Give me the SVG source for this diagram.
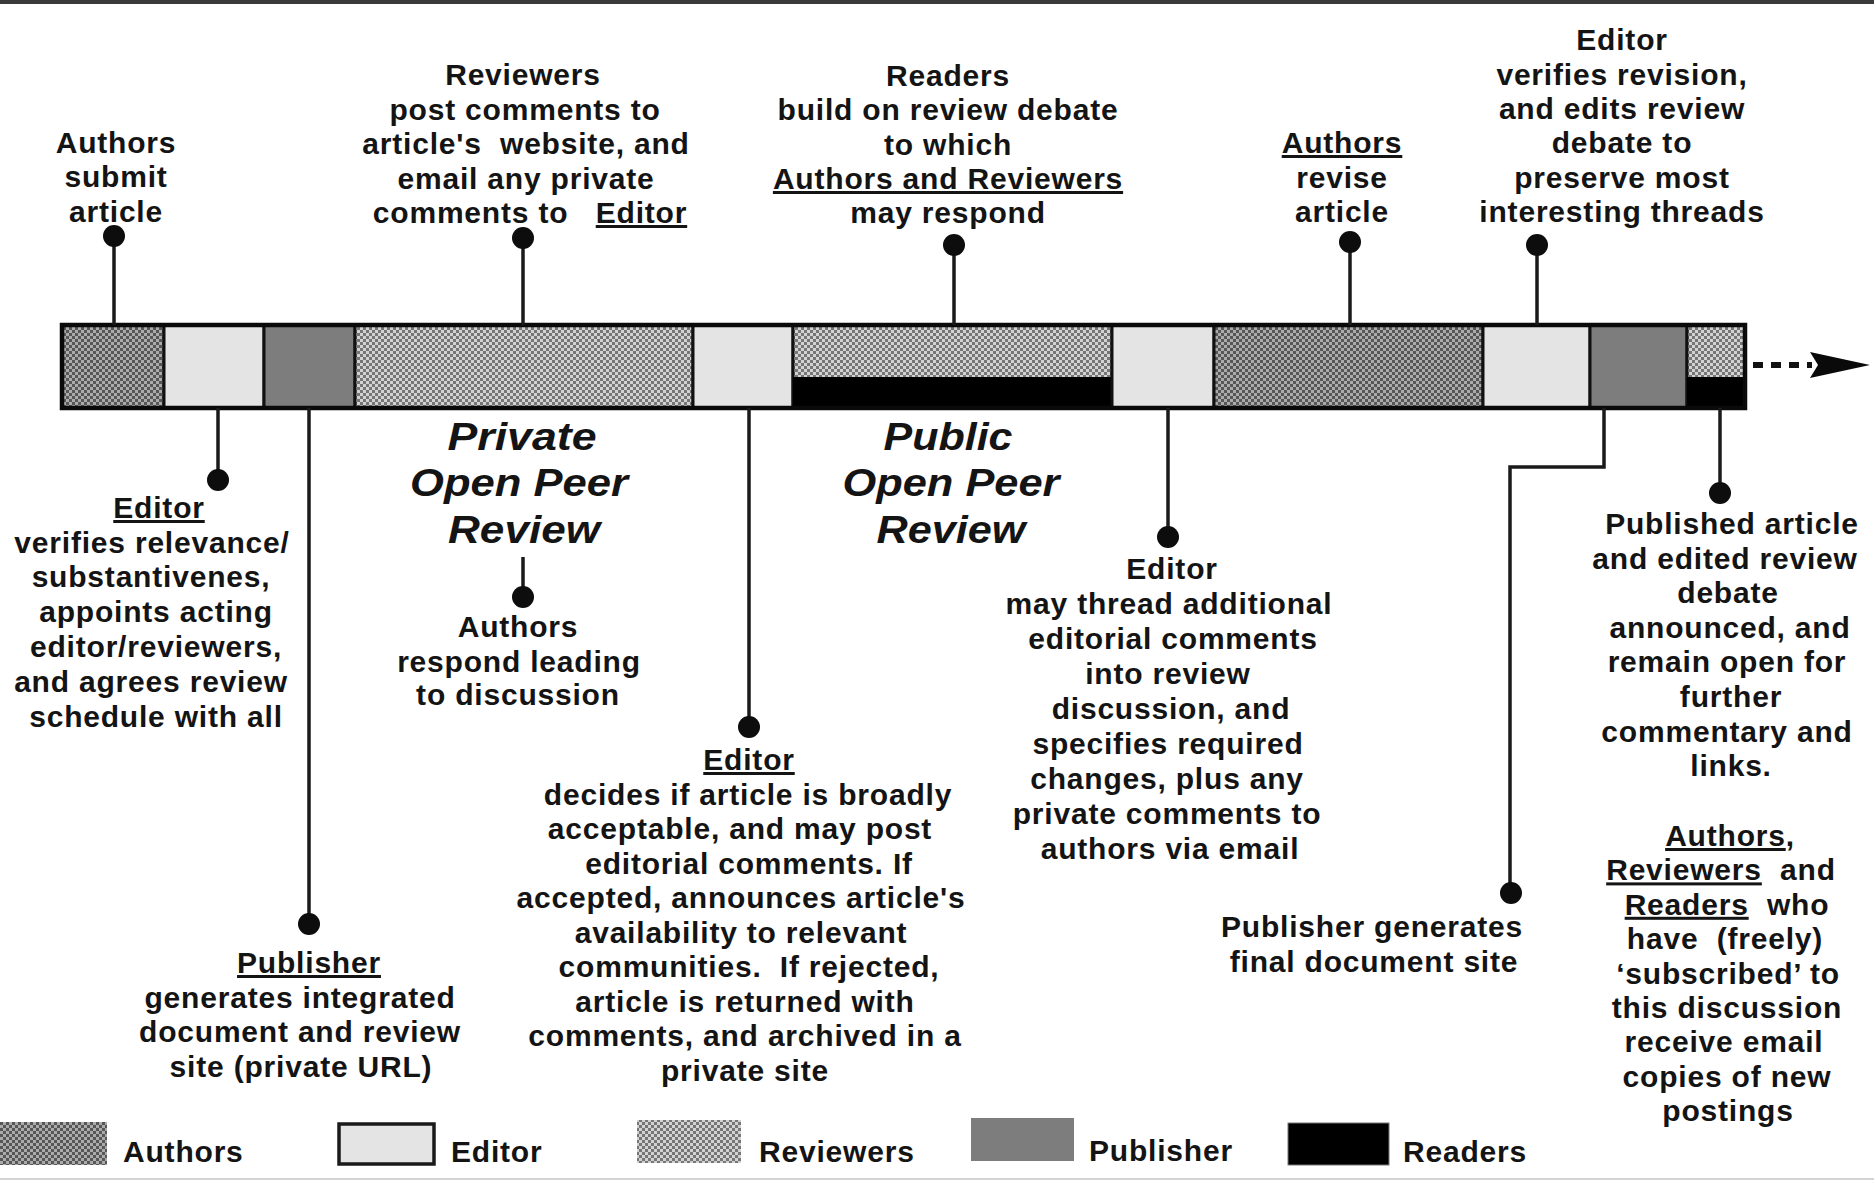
<svg xmlns="http://www.w3.org/2000/svg" width="1874" height="1181" viewBox="0 0 1874 1181">
<defs>
<style>
.t{font-family:"Liberation Sans",Arial,Helvetica,sans-serif;font-weight:bold;font-size:30px;letter-spacing:0.8px;fill:#141414;text-anchor:middle}
.lg{text-anchor:start}
.h{font-style:italic;font-size:38px;letter-spacing:0}
.u{text-decoration:underline}
.stem{stroke:#1a1a1a;stroke-width:3.5;fill:none}
.dot{fill:#0d0d0d}
.seg{stroke:#111;stroke-width:3}
</style>
<pattern id="pAuth" width="6" height="6" patternUnits="userSpaceOnUse">
<rect width="6" height="6" fill="#ababab"/>
<rect width="3" height="3" fill="#575757"/>
<rect x="3" y="3" width="3" height="3" fill="#575757"/>
</pattern>
<pattern id="pRev" width="6" height="6" patternUnits="userSpaceOnUse">
<rect width="6" height="6" fill="#d2d2d2"/>
<rect width="3" height="3" fill="#767676"/>
<rect x="3" y="3" width="3" height="3" fill="#767676"/>
</pattern>
</defs>
<rect width="1874" height="1181" fill="#ffffff"/>
<rect x="0" y="0" width="1874" height="4" fill="#3a3a3a"/>
<line x1="0" y1="1179" x2="1874" y2="1179" stroke="#d4d4d4" stroke-width="2"/>

<g id="bar">
<rect class="seg" x="62" y="325" width="102" height="83" fill="url(#pAuth)"/>
<rect class="seg" x="164" y="325" width="100" height="83" fill="#e4e4e4"/>
<rect class="seg" x="264" y="325" width="91" height="83" fill="#7d7d7d"/>
<rect class="seg" x="355" y="325" width="338" height="83" fill="url(#pRev)"/>
<rect class="seg" x="693" y="325" width="100" height="83" fill="#e4e4e4"/>
<rect class="seg" x="793" y="325" width="319" height="83" fill="url(#pRev)"/>
<rect x="793" y="377" width="319" height="31" fill="#000"/>
<rect class="seg" x="1112" y="325" width="102" height="83" fill="#e4e4e4"/>
<rect class="seg" x="1214" y="325" width="269" height="83" fill="url(#pAuth)"/>
<rect class="seg" x="1483" y="325" width="107" height="83" fill="#e4e4e4"/>
<rect class="seg" x="1590" y="325" width="97" height="83" fill="#7d7d7d"/>
<rect class="seg" x="1687" y="325" width="58" height="83" fill="url(#pRev)"/>
<rect x="1687" y="377" width="58" height="31" fill="#000"/>
<rect x="62" y="325" width="1683" height="83" fill="none" stroke="#0a0a0a" stroke-width="4.5"/>
</g>

<g id="connectors">
<line class="stem" x1="114" y1="236" x2="114" y2="325"/><circle class="dot" cx="114" cy="236" r="11"/>
<line class="stem" x1="523" y1="238" x2="523" y2="325"/><circle class="dot" cx="523" cy="238" r="11"/>
<line class="stem" x1="954" y1="245" x2="954" y2="325"/><circle class="dot" cx="954" cy="245" r="11"/>
<line class="stem" x1="1350" y1="242" x2="1350" y2="325"/><circle class="dot" cx="1350" cy="242" r="11"/>
<line class="stem" x1="1537" y1="245" x2="1537" y2="325"/><circle class="dot" cx="1537" cy="245" r="11"/>
<line class="stem" x1="218" y1="408" x2="218" y2="480"/><circle class="dot" cx="218" cy="480" r="11"/>
<line class="stem" x1="309" y1="408" x2="309" y2="924"/><circle class="dot" cx="309" cy="924" r="11"/>
<line class="stem" x1="523" y1="557" x2="523" y2="597"/><circle class="dot" cx="523" cy="597" r="11"/>
<line class="stem" x1="749" y1="408" x2="749" y2="727"/><circle class="dot" cx="749" cy="727" r="11"/>
<line class="stem" x1="1168" y1="408" x2="1168" y2="537"/><circle class="dot" cx="1168" cy="537" r="11"/>
<polyline class="stem" points="1604,408 1604,467 1510,467 1510,893"/><circle class="dot" cx="1511" cy="893" r="11"/>
<line class="stem" x1="1720" y1="408" x2="1720" y2="493"/><circle class="dot" cx="1720" cy="493" r="11"/>
<line x1="1753" y1="365" x2="1812" y2="365" stroke="#111" stroke-width="6" stroke-dasharray="10 8"/>
<polygon points="1810,352 1870,365 1810,378 1818,365" fill="#0a0a0a"/>
</g>

<g id="n-authors-submit">
<text class="t" x="116" y="153">Authors</text>
<text class="t" x="116" y="187">submit</text>
<text class="t" x="116" y="222">article</text>
</g>

<g id="n-reviewers-post">
<text class="t" x="523" y="85">Reviewers</text>
<text class="t" x="525" y="119.5">post comments to</text>
<text class="t" x="526" y="154" xml:space="preserve">article's  website, and</text>
<text class="t" x="526" y="188.5">email any private</text>
<text class="t" x="530" y="223" xml:space="preserve">comments to   <tspan class="u">Editor</tspan></text>
</g>

<g id="n-readers-build">
<text class="t" x="948" y="86">Readers</text>
<text class="t" x="948" y="120">build on review debate</text>
<text class="t" x="948" y="154.5">to which</text>
<text class="t" x="948" y="189"><tspan class="u">Authors and Reviewers</tspan></text>
<text class="t" x="948" y="223">may respond</text>
</g>

<g id="n-authors-revise">
<text class="t" x="1342" y="153"><tspan class="u">Authors</tspan></text>
<text class="t" x="1342" y="187.5">revise</text>
<text class="t" x="1342" y="222">article</text>
</g>

<g id="n-editor-verifies-revision">
<text class="t" x="1622" y="50">Editor</text>
<text class="t" x="1622" y="85">verifies revision,</text>
<text class="t" x="1622" y="119">and edits review</text>
<text class="t" x="1622" y="153">debate to</text>
<text class="t" x="1622" y="188">preserve most</text>
<text class="t" x="1622" y="222">interesting threads</text>
</g>

<g id="n-editor-relevance">
<text class="t" x="159" y="518"><tspan class="u">Editor</tspan></text>
<text class="t" x="152" y="553">verifies relevance/</text>
<text class="t" x="151" y="587">substantivenes,</text>
<text class="t" x="156" y="622">appoints acting</text>
<text class="t" x="156" y="657">editor/reviewers,</text>
<text class="t" x="151" y="692">and agrees review</text>
<text class="t" x="156" y="727">schedule with all</text>
</g>

<g id="n-publisher-integrated">
<text class="t" x="309" y="973"><tspan class="u">Publisher</tspan></text>
<text class="t" x="300" y="1007.5">generates integrated</text>
<text class="t" x="300" y="1042">document and review</text>
<text class="t" x="301" y="1076.5">site (private URL)</text>
</g>

<g id="n-private-review">
<text class="t h" x="522" y="450" textLength="149" lengthAdjust="spacingAndGlyphs">Private</text>
<text class="t h" x="519" y="496" textLength="218" lengthAdjust="spacingAndGlyphs">Open Peer</text>
<text class="t h" x="524" y="543" textLength="152" lengthAdjust="spacingAndGlyphs">Review</text>
</g>

<g id="n-authors-respond">
<text class="t" x="518" y="637">Authors</text>
<text class="t" x="519" y="671.5">respond leading</text>
<text class="t" x="518" y="705">to discussion</text>
</g>

<g id="n-editor-decides">
<text class="t" x="749" y="770"><tspan class="u">Editor</tspan></text>
<text class="t" x="748" y="805">decides if article is broadly</text>
<text class="t" x="740" y="839">acceptable, and may post</text>
<text class="t" x="749" y="874">editorial comments. If</text>
<text class="t" x="741" y="908">accepted, announces article's</text>
<text class="t" x="741" y="943">availability to relevant</text>
<text class="t" x="749" y="977" xml:space="preserve">communities.  If rejected,</text>
<text class="t" x="745" y="1012">article is returned with</text>
<text class="t" x="745" y="1046">comments, and archived in a</text>
<text class="t" x="745" y="1081">private site</text>
</g>

<g id="n-public-review">
<text class="t h" x="948" y="450" textLength="129" lengthAdjust="spacingAndGlyphs">Public</text>
<text class="t h" x="951" y="496" textLength="217" lengthAdjust="spacingAndGlyphs">Open Peer</text>
<text class="t h" x="951" y="543" textLength="149" lengthAdjust="spacingAndGlyphs">Review</text>
</g>

<g id="n-editor-thread">
<text class="t" x="1172" y="579">Editor</text>
<text class="t" x="1169" y="614">may thread additional</text>
<text class="t" x="1173" y="649">editorial comments</text>
<text class="t" x="1168" y="684">into review</text>
<text class="t" x="1171" y="719">discussion, and</text>
<text class="t" x="1168" y="754">specifies required</text>
<text class="t" x="1167" y="789">changes, plus any</text>
<text class="t" x="1167" y="824">private comments to</text>
<text class="t" x="1170" y="859">authors via email</text>
</g>

<g id="n-publisher-final">
<text class="t" x="1372" y="937">Publisher generates</text>
<text class="t" x="1374" y="972">final document site</text>
</g>

<g id="n-published-article">
<text class="t" x="1732" y="534">Published article</text>
<text class="t" x="1725" y="568.6">and edited review</text>
<text class="t" x="1728" y="603">debate</text>
<text class="t" x="1730" y="638">announced, and</text>
<text class="t" x="1727" y="672">remain open for</text>
<text class="t" x="1731" y="707">further</text>
<text class="t" x="1727" y="741.6">commentary and</text>
<text class="t" x="1731" y="776">links.</text>
</g>

<g id="n-subscribers">
<text class="t" x="1730" y="846"><tspan class="u">Authors</tspan>,</text>
<text class="t" x="1721" y="880.4" xml:space="preserve"><tspan class="u">Reviewers</tspan>  and</text>
<text class="t" x="1727" y="914.8" xml:space="preserve"><tspan class="u">Readers</tspan>  who</text>
<text class="t" x="1725" y="949.2" xml:space="preserve">have  (freely)</text>
<text class="t" x="1728" y="983.6">‘subscribed’ to</text>
<text class="t" x="1727" y="1018">this discussion</text>
<text class="t" x="1724" y="1052.4">receive email</text>
<text class="t" x="1727" y="1086.8">copies of new</text>
<text class="t" x="1728" y="1121.2">postings</text>
</g>

<g id="legend">
<rect x="0" y="1122" width="107" height="43" fill="url(#pAuth)"/>
<text class="t lg" x="123" y="1162">Authors</text>
<rect x="339" y="1124" width="95" height="40" fill="#e4e4e4" stroke="#1a1a1a" stroke-width="3.5"/>
<text class="t lg" x="451" y="1162">Editor</text>
<rect x="637" y="1120" width="104" height="43" fill="url(#pRev)"/>
<text class="t lg" x="759" y="1162">Reviewers</text>
<rect x="971" y="1118" width="103" height="43" fill="#7d7d7d"/>
<text class="t lg" x="1089" y="1161">Publisher</text>
<rect x="1288" y="1123" width="101" height="42" fill="#000" stroke="#777" stroke-width="1"/>
<text class="t lg" x="1403" y="1162">Readers</text>
</g>
</svg>
